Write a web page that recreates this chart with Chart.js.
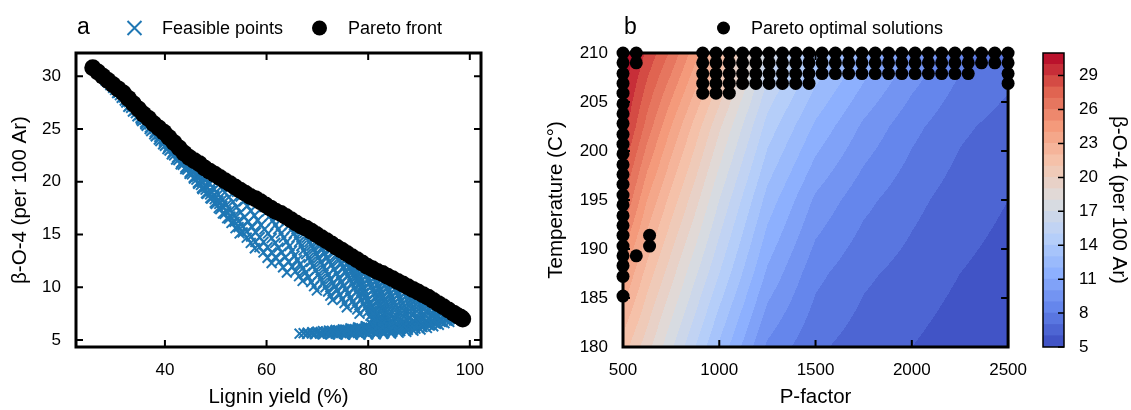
<!DOCTYPE html>
<html>
<head>
<meta charset="utf-8">
<script src="https://cdn.jsdelivr.net/npm/chart.js@4.4.1/dist/chart.umd.min.js"></script>
<style>
  html, body { margin: 0; padding: 0; background: #fff; }
  #wrap { position: relative; width: 1131px; height: 410px; overflow: hidden; }
  canvas { position: absolute; top: 0; }
</style>
</head>
<body>
<div id="wrap">
  <canvas id="panelA" width="530" height="410" style="left:0"></canvas>
  <canvas id="panelB" width="510" height="410" style="left:530px"></canvas>
  <canvas id="colorbar" width="95" height="410" style="left:1036px"></canvas>
</div>
<script>
// ---- panel a: lignin yield vs beta-O-4 ----
const xTicksA = [40, 60, 80, 100];
const yTicksA = [5, 10, 15, 20, 25, 30];

// feasible points, one line per P-factor strand (low T end first)
const feasiblePoints = [
  [46.0,21.5],[44.0,22.4],[42.0,23.4],[39.9,24.3],[37.9,25.2],[35.9,26.2],[33.9,27.1],[31.9,28.0],[29.8,28.9],[27.8,29.9],[25.8,30.8],
  [47.5,20.3],[45.6,21.2],[43.7,22.2],[41.7,23.1],[39.8,24.0],[37.9,25.0],[36.0,25.9],[34.1,26.8],[32.1,27.7],[30.2,28.7],[28.3,29.6],
  [49.0,19.1],[47.2,20.0],[45.3,21.0],[43.5,21.9],[41.6,22.8],[39.8,23.8],[38.0,24.7],[36.1,25.6],[34.3,26.5],[32.4,27.5],[30.6,28.4],
  [50.7,17.9],[48.9,18.8],[47.1,19.7],[45.3,20.7],[43.5,21.6],[41.8,22.5],[40.0,23.4],[38.2,24.3],[36.4,25.3],[34.6,26.2],[32.8,27.1],
  [52.6,16.5],[50.9,17.4],[49.1,18.4],[47.4,19.3],[45.7,20.3],[44.0,21.2],[42.2,22.1],[40.5,23.1],[38.8,24.0],[37.0,25.0],[35.3,25.9],
  [54.7,15.1],[53.1,16.1],[51.4,17.0],[49.8,18.0],[48.1,18.9],[46.5,19.9],[44.9,20.9],[43.2,21.8],[41.6,22.8],[39.9,23.8],[38.3,24.7],
  [57.7,13.7],[56.1,14.7],[54.5,15.7],[52.9,16.7],[51.3,17.7],[49.7,18.7],[48.0,19.6],[46.4,20.6],[44.8,21.6],[43.2,22.6],[41.6,23.6],
  [61.0,12.3],[59.4,13.3],[57.8,14.3],[56.1,15.3],[54.5,16.3],[52.9,17.3],[51.3,18.3],[49.7,19.3],[48.0,20.3],[46.4,21.3],[44.8,22.3],
  [64.0,11.4],[62.5,12.4],[61.0,13.3],[59.4,14.3],[57.9,15.2],[56.4,16.2],[54.9,17.1],[53.4,18.1],[51.8,19.0],[50.3,20.0],[48.8,20.9],
  [67.1,10.6],[65.7,11.5],[64.4,12.4],[63.0,13.3],[61.7,14.2],[60.3,15.1],[58.9,15.9],[57.6,16.8],[56.2,17.7],[54.9,18.6],[53.5,19.5],
  [69.9,9.7],[68.8,10.5],[67.7,11.4],[66.6,12.2],[65.5,13.0],[64.5,13.9],[63.4,14.7],[62.3,15.5],[61.2,16.3],[60.1,17.2],[59.0,18.0],
  [73.0,8.8],[72.1,9.6],[71.1,10.4],[70.2,11.2],[69.2,12.0],[68.3,12.8],[67.3,13.5],[66.4,14.3],[65.4,15.1],[64.5,15.9],[63.5,16.7],
  [75.8,8.1],[74.9,8.9],[73.9,9.7],[73.0,10.4],[72.1,11.2],[71.2,12.0],[70.2,12.8],[69.3,13.6],[68.4,14.3],[67.4,15.1],[66.5,15.9],
  [78.3,7.5],[77.4,8.3],[76.5,9.0],[75.6,9.8],[74.7,10.5],[73.8,11.3],[72.8,12.1],[71.9,12.8],[71.0,13.6],[70.1,14.3],[69.2,15.1],
  [80.9,6.9],[80.0,7.7],[79.1,8.4],[78.2,9.2],[77.3,9.9],[76.5,10.7],[75.6,11.4],[74.7,12.2],[73.8,12.9],[72.9,13.7],[72.0,14.4],
  [82.3,6.65],[81.5,7.36],[80.7,8.06],[79.9,8.77],[79.1,9.47],[78.3,10.2],[77.5,10.9],[76.7,11.6],[75.9,12.3],[75.1,13.0],[74.3,13.7],
  [81.8,6.5],[81.3,7.2],[80.7,7.8],[80.2,8.5],[79.6,9.1],[79.1,9.8],[78.5,10.5],[78.0,11.1],[77.4,11.8],[76.9,12.4],[76.3,13.1],
  [80.8,6.4],[82.5,6.8],[82.9,7.35],[82.5,8.0],[81.9,8.7],[81.3,9.4],[80.6,10.1],[80.0,10.8],[79.3,11.5],[78.8,12.0],[78.3,12.5],
  [79.5,6.3],[82.2,6.5],[83.8,6.9],[84.0,7.45],[83.7,8.05],[83.2,8.7],[82.6,9.35],[82.1,10.0],[81.5,10.6],[81.0,11.25],[80.4,11.9],
  [78.0,6.2],[81.2,6.35],[84.0,6.6],[85.4,7.05],[85.6,7.6],[85.3,8.2],[84.8,8.8],[84.3,9.4],[83.7,10.0],[83.2,10.7],[82.6,11.3],
  [76.5,6.1],[80.0,6.22],[83.4,6.4],[86.0,6.7],[87.0,7.2],[87.0,7.8],[86.7,8.4],[86.2,9.0],[85.7,9.6],[85.2,10.2],[84.6,10.8],
  [75.0,6.0],[78.7,6.1],[82.3,6.24],[85.6,6.45],[87.8,6.85],[88.5,7.4],[88.4,8.0],[88.0,8.6],[87.6,9.2],[87.1,9.8],[86.6,10.3],
  [73.6,5.95],[77.4,6.03],[81.1,6.12],[84.6,6.27],[87.7,6.5],[89.6,6.95],[90.0,7.55],[89.8,8.2],[89.5,8.8],[89.1,9.3],[88.6,9.8],
  [72.3,5.9],[76.0,5.95],[79.7,6.02],[83.3,6.12],[86.7,6.3],[89.5,6.6],[91.0,7.1],[91.3,7.7],[91.1,8.3],[90.8,8.9],[90.3,9.4],
  [71.1,5.85],[74.7,5.88],[78.3,5.93],[81.9,6.0],[85.4,6.13],[88.6,6.35],[91.2,6.7],[92.6,7.2],[92.9,7.8],[92.7,8.4],[92.2,8.9],
  [70.0,5.8],[73.5,5.82],[77.0,5.85],[80.5,5.9],[84.0,6.0],[87.3,6.17],[90.3,6.42],[92.6,6.8],[93.8,7.3],[94.0,7.9],[93.6,8.5],
  [69.0,5.75],[72.4,5.75],[75.8,5.76],[79.2,5.8],[82.6,5.88],[85.9,6.02],[89.0,6.24],[91.8,6.55],[94.0,6.95],[95.2,7.5],[94.7,8.2],
  [68.1,5.7],[71.4,5.68],[74.7,5.67],[78.0,5.68],[81.3,5.73],[84.5,5.84],[87.6,6.02],[90.5,6.28],[93.1,6.6],[95.2,6.95],[96.4,7.35],[95.9,7.9],
  [67.3,5.65],[70.5,5.62],[73.6,5.6],[76.8,5.6],[80.0,5.62],[83.2,5.7],[86.3,5.85],[89.3,6.08],[92.1,6.38],[94.6,6.7],[96.5,7.0],[97.4,7.3],[96.8,7.6],
  [66.5,5.6],[69.5,5.57],[72.5,5.54],[75.5,5.52],[78.5,5.52],[81.5,5.54],[84.5,5.62],[87.5,5.78],[90.3,6.0],[92.8,6.3],[95.0,6.6],[96.9,6.85],[98.5,7.05],[98.3,7.2],[97.9,7.35],[97.2,7.5]
];

// the in-between temperatures of the same strands
const feasibleMidPoints = [
  [45.0,21.95],[43.0,22.9],[40.95,23.85],[38.9,24.75],[36.9,25.7],[34.9,26.65],[32.9,27.55],[30.85,28.45],[28.8,29.4],[26.8,30.35],
  [46.55,20.75],[44.65,21.7],[42.7,22.65],[40.75,23.55],[38.85,24.5],[36.95,25.45],[35.05,26.35],[33.1,27.25],[31.15,28.2],[29.25,29.15],
  [48.1,19.55],[46.25,20.5],[44.4,21.45],[42.55,22.35],[40.7,23.3],[38.9,24.25],[37.05,25.15],[35.2,26.05],[33.35,27.0],[31.5,27.95],
  [49.8,18.35],[48.0,19.25],[46.2,20.2],[44.4,21.15],[42.65,22.05],[40.9,22.95],[39.1,23.85],[37.3,24.8],[35.5,25.75],[33.7,26.65],
  [51.75,16.95],[50.0,17.9],[48.25,18.85],[46.55,19.8],[44.85,20.75],[43.1,21.65],[41.35,22.6],[39.65,23.55],[37.9,24.5],[36.15,25.45],
  [53.9,15.6],[52.25,16.55],[50.6,17.5],[48.95,18.45],[47.3,19.4],[45.7,20.4],[44.05,21.35],[42.4,22.3],[40.75,23.3],[39.1,24.25],
  [56.9,14.2],[55.3,15.2],[53.7,16.2],[52.1,17.2],[50.5,18.2],[48.85,19.15],[47.2,20.1],[45.6,21.1],[44.0,22.1],[42.4,23.1],
  [60.2,12.8],[58.6,13.8],[56.95,14.8],[55.3,15.8],[53.7,16.8],[52.1,17.8],[50.5,18.8],[48.85,19.8],[47.2,20.8],[45.6,21.8],
  [63.25,11.9],[61.75,12.85],[60.2,13.8],[58.65,14.75],[57.15,15.7],[55.65,16.65],[54.15,17.6],[52.6,18.55],[51.05,19.5],[49.55,20.45],
  [66.4,11.05],[65.05,11.95],[63.7,12.85],[62.35,13.75],[61.0,14.65],[59.6,15.5],[58.25,16.35],[56.9,17.25],[55.55,18.15],[54.2,19.05],
  [69.35,10.1],[68.25,10.95],[67.15,11.8],[66.05,12.6],[65.0,13.45],[63.95,14.3],[62.85,15.1],[61.75,15.9],[60.65,16.75],[59.55,17.6],
  [72.55,9.2],[71.6,10.0],[70.65,10.8],[69.7,11.6],[68.75,12.4],[67.8,13.15],[66.85,13.9],[65.9,14.7],[64.95,15.5],[64.0,16.3],
  [75.35,8.5],[74.4,9.3],[73.45,10.05],[72.55,10.8],[71.65,11.6],[70.7,12.4],[69.75,13.2],[68.85,13.95],[67.9,14.7],[66.95,15.5],
  [77.85,7.9],[76.95,8.65],[76.05,9.4],[75.15,10.15],[74.25,10.9],[73.3,11.7],[72.35,12.45],[71.45,13.2],[70.55,13.95],[69.65,14.7],
  [80.45,7.3],[79.55,8.05],[78.65,8.8],[77.75,9.55],[76.9,10.3],[76.05,11.05],[75.15,11.8],[74.25,12.55],[73.35,13.3],[72.45,14.05],
  [81.9,7.0],[81.1,7.7],[80.3,8.4],[79.5,9.1],[78.7,9.85],[77.9,10.55],[77.1,11.25],[76.3,11.95],[75.5,12.65],[74.7,13.35],
  [81.55,6.85],[81.0,7.5],[80.45,8.15],[79.9,8.8],[79.35,9.45],[78.8,10.15],[78.25,10.8],[77.7,11.45],[77.15,12.1],[76.6,12.75],
  [81.65,6.6],[82.7,7.08],[82.7,7.68],[82.2,8.35],[81.6,9.05],[80.95,9.75],[80.3,10.45],[79.65,11.15],[79.05,11.75],[78.55,12.25],
  [80.85,6.4],[83.0,6.7],[83.9,7.18],[83.85,7.75],[83.45,8.38],[82.9,9.03],[82.35,9.68],[81.8,10.3],[81.25,10.93],[80.7,11.58],
  [79.6,6.28],[82.6,6.48],[84.7,6.83],[85.5,7.33],[85.45,7.9],[85.05,8.5],[84.55,9.1],[84.0,9.7],[83.45,10.35],[82.9,11.0],
  [78.25,6.16],[81.7,6.31],[84.7,6.55],[86.5,6.95],[87.0,7.5],[86.85,8.1],[86.45,8.7],[85.95,9.3],[85.45,9.9],[84.9,10.5],
  [76.85,6.05],[80.5,6.17],[83.95,6.35],[86.7,6.65],[88.15,7.13],[88.45,7.7],[88.2,8.3],[87.8,8.9],[87.35,9.5],[86.85,10.05],
  [75.5,5.99],[79.25,6.08],[82.85,6.2],[86.15,6.39],[88.65,6.73],[89.8,7.25],[89.9,7.88],[89.65,8.5],[89.3,9.05],[88.85,9.55],
  [74.15,5.93],[77.85,5.99],[81.5,6.07],[85.0,6.21],[88.1,6.45],[90.25,6.85],[91.15,7.4],[91.2,8.0],[90.95,8.6],[90.55,9.15],
  [72.9,5.87],[76.5,5.9],[80.1,5.97],[83.65,6.07],[87.0,6.24],[89.9,6.53],[91.9,6.95],[92.75,7.5],[92.8,8.1],[92.45,8.65],
  [71.75,5.81],[75.25,5.83],[78.75,5.87],[82.25,5.95],[85.65,6.08],[88.8,6.3],[91.45,6.61],[93.2,7.05],[93.9,7.6],[93.8,8.2],
  [70.7,5.75],[74.1,5.75],[77.5,5.78],[80.9,5.84],[84.25,5.95],[87.45,6.13],[90.4,6.4],[92.9,6.75],[94.6,7.23],[94.95,7.85],
  [69.75,5.69],[73.05,5.68],[76.35,5.68],[79.65,5.7],[82.9,5.78],[86.05,5.93],[89.05,6.15],[91.8,6.44],[94.15,6.78],[95.8,7.15],[96.15,7.63],
  [68.9,5.63],[72.05,5.61],[75.2,5.6],[78.4,5.61],[81.6,5.66],[84.75,5.78],[87.8,5.97],[90.7,6.23],[93.35,6.54],[95.55,6.85],[96.95,7.15],
  [68.0,5.58],[71.0,5.55],[74.0,5.53],[77.0,5.52],[80.0,5.53],[83.0,5.58],[86.0,5.7],[88.9,5.89],[91.55,6.15],[93.9,6.45],[95.95,6.72],[97.7,6.95]
];

const paretoFrontA = [
  [25.8,30.8],[26.8,30.4],[27.8,30.0],[28.8,29.6],[29.8,29.2],[30.8,28.8],[31.8,28.4],[32.8,27.9],[33.8,27.4],[34.8,26.9],
  [35.8,26.4],[36.8,26.0],[37.8,25.5],[38.8,25.1],[39.8,24.7],[40.8,24.2],[41.8,23.7],[42.8,23.2],[43.8,22.7],[44.8,22.3],
  [45.8,22.0],[46.8,21.7],[47.8,21.3],[48.8,21.0],[49.8,20.7],[50.8,20.4],[51.8,20.1],[52.8,19.8],[53.8,19.5],[54.8,19.2],
  [55.8,18.9],[56.8,18.6],[57.8,18.4],[58.8,18.1],[59.8,17.8],[60.8,17.5],[61.8,17.2],[62.8,17.0],[63.8,16.7],[64.8,16.4],
  [65.8,16.1],[66.8,15.8],[67.8,15.6],[68.8,15.3],[69.8,15.0],[70.8,14.7],[71.8,14.4],[72.8,14.1],[73.8,13.8],[74.8,13.5],
  [75.8,13.2],[76.8,12.9],[77.8,12.6],[78.8,12.3],[79.8,12.0],[80.8,11.75],[81.8,11.5],[82.8,11.3],[83.8,11.05],[84.8,10.8],
  [85.8,10.55],[86.8,10.3],[87.8,10.05],[88.8,9.8],[89.8,9.55],[90.8,9.3],[91.8,9.05],[92.8,8.75],[93.8,8.45],[94.8,8.15],
  [95.8,7.85],[96.8,7.55],[97.6,7.3],[98.2,7.15],[98.6,7.0]
];

// ---- panel b: beta-O-4 over P-factor / temperature ----
const xTicksB = [500, 1000, 1500, 2000, 2500];
const yTicksB = [180, 185, 190, 195, 200, 205, 210];
const pFactorGrid = [500, 625, 750, 875, 1000, 1250, 1500, 1750, 2000, 2250, 2500];
const tempGrid = [180, 187.5, 195, 202.5, 210];
const betaField = [
  [21.5, 19.4, 17.2, 15.0, 12.8, 8.8, 7.2, 6.5, 6.0, 5.5, 5.2],
  [24.2, 21.6, 19.4, 17.2, 15.0, 10.8, 8.3, 7.2, 6.6, 6.0, 5.6],
  [27.2, 24.0, 21.6, 19.4, 17.0, 12.6, 9.8, 8.3, 7.3, 6.5, 6.0],
  [29.6, 26.6, 24.0, 21.6, 19.2, 14.6, 11.8, 9.8, 8.3, 7.2, 6.6],
  [31.0, 28.8, 26.8, 24.4, 22.0, 16.8, 14.0, 11.8, 9.9, 8.3, 7.5]
];
const contourLevels = [5, 6, 7, 8, 9, 10, 11, 12, 13, 14, 15, 16, 17, 18, 19, 20, 21, 22, 23, 24, 25, 26, 27, 28, 29, 30, 31];
const cbTicks = [5, 8, 11, 14, 17, 20, 23, 26, 29];

// pareto optimal solutions: P-factor columns and the temperatures picked in each
const paretoP = [500, 569, 638, 914, 983, 1052, 1121, 1190, 1259, 1328, 1397, 1466,
  1534, 1603, 1672, 1741, 1810, 1879, 1948, 2017, 2086, 2155, 2224, 2293, 2362, 2431, 2500];
const paretoT = [
  [185.2, 187.2, 188.3, 189.3, 190.3, 191.4, 192.4, 193.4, 194.5, 195.5, 196.6, 197.6, 198.6, 199.7, 200.7, 201.7, 202.8, 203.8, 204.8, 205.9, 206.9, 207.9, 209.0, 210.0],
  [189.3, 209.0, 210.0],
  [190.3, 191.4],
  [205.9, 206.9, 207.9, 209.0, 210.0],
  [205.9, 206.9, 207.9, 209.0, 210.0],
  [205.9, 206.9, 207.9, 209.0, 210.0],
  [206.9, 207.9, 209.0, 210.0],
  [206.9, 207.9, 209.0, 210.0],
  [206.9, 207.9, 209.0, 210.0],
  [206.9, 207.9, 209.0, 210.0],
  [206.9, 207.9, 209.0, 210.0],
  [206.9, 207.9, 209.0, 210.0],
  [207.9, 209.0, 210.0], [207.9, 209.0, 210.0], [207.9, 209.0, 210.0], [207.9, 209.0, 210.0],
  [207.9, 209.0, 210.0], [207.9, 209.0, 210.0], [207.9, 209.0, 210.0], [207.9, 209.0, 210.0],
  [207.9, 209.0, 210.0], [207.9, 209.0, 210.0], [207.9, 209.0, 210.0], [207.9, 209.0, 210.0],
  [209.0, 210.0],
  [209.0, 210.0],
  [206.9, 207.9, 209.0, 210.0]
];

const blue = '#1f77b4';
const FONT = '"Liberation Sans", Arial, Helvetica, sans-serif';
Chart.defaults.font.family = FONT;
Chart.defaults.color = '#000';

// matplotlib-like coolwarm
const coolwarmStops = [[59,76,192],[98,130,234],[141,176,254],[184,208,249],[221,221,221],[245,196,173],[244,154,123],[222,96,77],[180,4,38]];
function coolwarm(t) {
  const s = Math.min(Math.max(t, 0), 1) * (coolwarmStops.length - 1);
  const i = Math.min(Math.floor(s), coolwarmStops.length - 2);
  const f = s - i;
  return coolwarmStops[i].map((c, k) => Math.round(c + (coolwarmStops[i + 1][k] - c) * f));
}
const nBands = contourLevels.length - 1;
const bandRGB = contourLevels.slice(0, -1).map((_, i) => coolwarm((i + 0.5) / nBands));

function betaAt(p, t) {
  let i = pFactorGrid.length - 2;
  while (i > 0 && p < pFactorGrid[i]) i--;
  let j = tempGrid.length - 2;
  while (j > 0 && t < tempGrid[j]) j--;
  const u = (p - pFactorGrid[i]) / (pFactorGrid[i + 1] - pFactorGrid[i]);
  const v = (t - tempGrid[j]) / (tempGrid[j + 1] - tempGrid[j]);
  const r0 = betaField[j], r1 = betaField[j + 1];
  return (1 - u) * (1 - v) * r0[i] + u * (1 - v) * r0[i + 1] + (1 - u) * v * r1[i] + u * v * r1[i + 1];
}
function bandOf(z) {
  for (let i = nBands - 1; i >= 0; i--) if (z >= contourLevels[i]) return i;
  return 0;
}

// filled contour under the scatter, pixel by pixel through the scales
const contourFill = {
  id: 'contourFill',
  beforeDatasetsDraw(chart) {
    const { ctx, chartArea: a, scales: { x, y } } = chart;
    const w = Math.round(a.right - a.left), h = Math.round(a.bottom - a.top);
    const off = document.createElement('canvas');
    off.width = w; off.height = h;
    const octx = off.getContext('2d');
    const img = octx.createImageData(w, h);
    for (let j = 0; j < h; j++) {
      const t = y.getValueForPixel(a.top + j + 0.5);
      for (let i = 0; i < w; i++) {
        const p = x.getValueForPixel(a.left + i + 0.5);
        const c = bandRGB[bandOf(betaAt(p, t))];
        const k = (j * w + i) * 4;
        img.data[k] = c[0]; img.data[k + 1] = c[1]; img.data[k + 2] = c[2]; img.data[k + 3] = 255;
      }
    }
    octx.putImageData(img, 0, 0);
    ctx.drawImage(off, a.left, a.top);
  }
};

// box frame with inward ticks on all four sides
const frameTicks = {
  id: 'frameTicks',
  beforeDatasetsDraw(chart, args, opts) {
    const { ctx, chartArea: a, scales } = chart;
    const len = opts.tickLength || 7;
    ctx.save();
    ctx.strokeStyle = '#000';
    ctx.lineWidth = opts.tickWidth || 2;
    ctx.beginPath();
    scales.x.ticks.forEach(t => {
      const px = scales.x.getPixelForValue(t.value);
      ctx.moveTo(px, a.bottom); ctx.lineTo(px, a.bottom - len);
      ctx.moveTo(px, a.top); ctx.lineTo(px, a.top + len);
    });
    scales.y.ticks.forEach(t => {
      const py = scales.y.getPixelForValue(t.value);
      ctx.moveTo(a.left, py); ctx.lineTo(a.left + len, py);
      ctx.moveTo(a.right, py); ctx.lineTo(a.right - len, py);
    });
    ctx.stroke();
    ctx.lineWidth = opts.frameWidth || 3;
    ctx.strokeRect(a.left, a.top, a.right - a.left, a.bottom - a.top);
    ctx.restore();
  }
};

// panel letter and legend row above the plot
const panelLegend = {
  id: 'panelLegend',
  afterDraw(chart, args, opts) {
    const ctx = chart.ctx;
    ctx.save();
    ctx.fillStyle = '#000';
    ctx.textBaseline = 'middle';
    ctx.font = '23px ' + FONT;
    ctx.fillText(opts.letter, opts.letterX, opts.y);
    ctx.font = '18px ' + FONT;
    opts.items.forEach(it => {
      if (it.kind === 'cross') {
        ctx.strokeStyle = blue;
        ctx.lineWidth = 2;
        ctx.beginPath();
        ctx.moveTo(it.x - 7, opts.y - 7); ctx.lineTo(it.x + 7, opts.y + 7);
        ctx.moveTo(it.x - 7, opts.y + 7); ctx.lineTo(it.x + 7, opts.y - 7);
        ctx.stroke();
      } else {
        ctx.beginPath();
        ctx.arc(it.x, opts.y, it.r, 0, Math.PI * 2);
        ctx.fill();
      }
      ctx.fillText(it.label, it.tx, opts.y + 1);
    });
    ctx.restore();
  }
};

const plain = v => String(v);

new Chart(document.getElementById('panelA'), {
  type: 'scatter',
  data: {
    datasets: [
      {
        label: 'Feasible points',
        data: feasiblePoints.concat(feasibleMidPoints).map(([x, y]) => ({ x, y })),
        pointStyle: 'crossRot', pointRadius: 7, borderColor: blue, backgroundColor: blue, borderWidth: 2,
        order: 2
      },
      {
        label: 'Pareto front',
        data: paretoFrontA.map(([x, y]) => ({ x, y })),
        pointStyle: 'circle', pointRadius: 8.5, backgroundColor: '#000', borderColor: '#000', borderWidth: 0,
        order: 1
      }
    ]
  },
  options: {
    responsive: false, animation: false, devicePixelRatio: 1,
    layout: { padding: { left: 0, top: 53, right: 49, bottom: 0 } },
    plugins: {
      legend: { display: false }, tooltip: { enabled: false },
      panelLegend: {
        letter: 'a', letterX: 77, y: 28,
        items: [
          { kind: 'cross', x: 134.5, label: 'Feasible points', tx: 162 },
          { kind: 'dot', x: 319.5, r: 7.5, label: 'Pareto front', tx: 348 }
        ]
      }
    },
    scales: {
      x: {
        type: 'linear', min: 22.5, max: 102.2,
        afterBuildTicks: s => { s.ticks = xTicksA.map(v => ({ value: v })); },
        afterFit: s => { s.height = 63; },
        grid: { display: false, drawTicks: false }, border: { display: false },
        ticks: { padding: 13, font: { size: 17 }, maxRotation: 0, callback: plain },
        title: { display: true, text: 'Lignin yield (%)', font: { size: 20.5 }, padding: { top: 0, bottom: 0 } }
      },
      y: {
        type: 'linear', min: 4.34, max: 32.2,
        afterBuildTicks: s => { s.ticks = yTicksA.map(v => ({ value: v })); },
        afterFit: s => { s.width = 76; },
        grid: { display: false, drawTicks: false }, border: { display: false },
        ticks: { padding: 15, font: { size: 17 }, callback: plain },
        title: { display: true, text: 'β-O-4 (per 100 Ar)', font: { size: 20.5 }, padding: { top: 8, bottom: 0 } }
      }
    }
  },
  plugins: [frameTicks, panelLegend]
});

new Chart(document.getElementById('panelB'), {
  type: 'scatter',
  data: {
    datasets: [{
      label: 'Pareto optimal solutions',
      data: paretoP.flatMap((p, i) => paretoT[i].map(t => ({ x: p, y: t }))),
      pointStyle: 'circle', pointRadius: 6.5, backgroundColor: '#000', borderColor: '#000', borderWidth: 0,
      clip: false
    }]
  },
  options: {
    responsive: false, animation: false, devicePixelRatio: 1,
    layout: { padding: { left: 0, top: 53, right: 14, bottom: 0 } },
    plugins: {
      legend: { display: false }, tooltip: { enabled: false },
      panelLegend: {
        letter: 'b', letterX: 94, y: 28,
        items: [{ kind: 'dot', x: 193.5, r: 6.5, label: 'Pareto optimal solutions', tx: 221 }]
      }
    },
    scales: {
      x: {
        type: 'linear', min: 500, max: 2500,
        afterBuildTicks: s => { s.ticks = xTicksB.map(v => ({ value: v })); },
        afterFit: s => { s.height = 63; },
        grid: { display: false, drawTicks: false }, border: { display: false },
        ticks: { padding: 13, font: { size: 17 }, maxRotation: 0, callback: plain },
        title: { display: true, text: 'P-factor', font: { size: 20.5 }, padding: { top: 0, bottom: 0 } }
      },
      y: {
        type: 'linear', min: 180, max: 210,
        afterBuildTicks: s => { s.ticks = yTicksB.map(v => ({ value: v })); },
        afterFit: s => { s.width = 93; },
        grid: { display: false, drawTicks: false }, border: { display: false },
        ticks: { padding: 15, font: { size: 17 }, callback: plain },
        title: { display: true, text: 'Temperature (C°)', font: { size: 20.5 }, padding: { top: 14, bottom: 0 } }
      }
    }
  },
  plugins: [contourFill, frameTicks, panelLegend]
});

// colour bar: one floating bar per contour band
const cbFrame = {
  id: 'cbFrame',
  afterDatasetsDraw(chart) {
    const { ctx, chartArea: a, scales: { y } } = chart;
    ctx.save();
    ctx.strokeStyle = '#000';
    ctx.lineWidth = 1.5;
    ctx.beginPath();
    y.ticks.forEach(t => {
      const py = y.getPixelForValue(t.value);
      ctx.moveTo(a.right, py); ctx.lineTo(a.right - 6, py);
    });
    ctx.stroke();
    ctx.strokeRect(a.left, a.top, a.right - a.left, a.bottom - a.top);
    ctx.restore();
  }
};

new Chart(document.getElementById('colorbar'), {
  type: 'bar',
  data: {
    labels: [''],
    datasets: bandRGB.map((c, i) => ({
      data: [[contourLevels[i], contourLevels[i + 1]]],
      backgroundColor: `rgb(${c[0]},${c[1]},${c[2]})`,
      borderWidth: 0, grouped: false, barPercentage: 1, categoryPercentage: 1
    }))
  },
  options: {
    responsive: false, animation: false, devicePixelRatio: 1,
    layout: { padding: { left: 7, top: 53, right: 0, bottom: 63 } },
    plugins: { legend: { display: false }, tooltip: { enabled: false } },
    scales: {
      x: { display: false },
      y: {
        position: 'right', min: 5, max: 31,
        afterBuildTicks: s => { s.ticks = cbTicks.map(v => ({ value: v })); },
        afterFit: s => { s.width = 67; },
        grid: { display: false, drawTicks: false }, border: { display: false },
        ticks: { padding: 15, font: { size: 17 }, callback: plain },
        title: { display: true, text: 'β-O-4 (per 100 Ar)', font: { size: 20.5 }, padding: { top: 0, bottom: 0 } }
      }
    }
  },
  plugins: [cbFrame]
});
</script>
</body>
</html>
